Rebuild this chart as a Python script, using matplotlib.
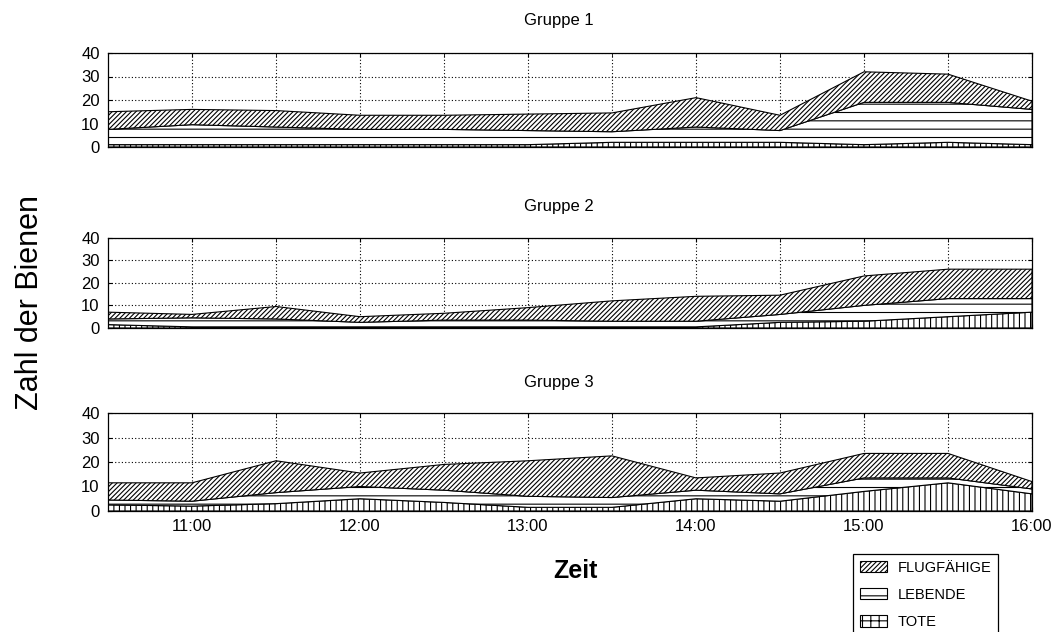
import matplotlib
matplotlib.use("Agg")
import matplotlib.pyplot as plt
from matplotlib.patches import Patch

plt.rcParams['font.family'] = ['Liberation Sans', 'DejaVu Sans']
plt.rcParams['hatch.linewidth'] = 0.8

# time of day in hours, every half hour
zeit = [10.5, 11.0, 11.5, 12.0, 12.5, 13.0, 13.5, 14.0, 14.5, 15.0, 15.5, 16.0]
stunden = [11, 12, 13, 14, 15, 16]
stunden_labels = ["11:00", "12:00", "13:00", "14:00", "15:00", "16:00"]

gruppen = ["Gruppe 1", "Gruppe 2", "Gruppe 3"]
kategorien = ["FLUGFÄHIGE", "LEBENDE", "TOTE"]

# Gruppe 1
tote_1 = [1, 1, 1, 1, 1, 1, 2, 2, 2, 1, 2, 1]
lebende_1 = [6.5, 8.5, 7.5, 6.5, 6.5, 6, 4.5, 6.5, 5, 18, 17, 15]
flug_1 = [7.5, 6.5, 7, 6, 6, 7, 8, 12.5, 6.5, 13, 12, 3.5]

# Gruppe 2
tote_2 = [1.5, 0.5, 0.5, 0.5, 0.5, 0.5, 0.5, 0.5, 2.5, 3, 5, 7]
lebende_2 = [2.5, 4, 3.5, 2, 3, 3, 2.5, 2.5, 3.5, 7, 8, 6]
flug_2 = [3, 1.5, 5.5, 2.5, 3, 5.5, 9, 11, 8.5, 13, 13, 13]

# Gruppe 3
tote_3 = [2.5, 2, 3, 5, 3.5, 1.5, 1.5, 5, 4, 8, 11.5, 7]
lebende_3 = [2, 2, 4.5, 5, 5, 4.5, 4, 3.5, 3, 5.5, 2, 2]
flug_3 = [7, 7.5, 13, 5.5, 10.5, 14.5, 17, 5, 8.5, 10, 10, 3]

daten = [(tote_1, lebende_1, flug_1),
         (tote_2, lebende_2, flug_2),
         (tote_3, lebende_3, flug_3)]

W, H = 1056, 632
fig = plt.figure(figsize=(W / 100, H / 100), dpi=100)

# panel boxes in pixels: (top, bottom)
boxes = [(53, 147), (237.5, 328), (413, 511)]
title_y = [21, 206, 382]
left, right = 108, 1032

for i, (tote, leb, flug) in enumerate(daten):
    top, bot = boxes[i]
    ax = fig.add_axes([left / W, 1 - bot / H, (right - left) / W, (bot - top) / H])
    ax.set_axisbelow(True)
    polys = ax.stackplot(zeit, tote, leb, flug,
                         colors=['white', 'white', 'white'],
                         edgecolor='black', linewidth=0.8)
    for p, h in zip(polys, ['|||', '--', '///////']):
        p.set_hatch(h)

    ax.set_xlim(10.5, 16)
    ax.set_ylim(0, 40)
    ax.set_yticks([0, 10, 20, 30, 40])
    ax.set_xticks(stunden)
    ax.set_xticks([11.5, 12.5, 13.5, 14.5, 15.5], minor=True)
    if i == 2:
        ax.set_xticklabels(stunden_labels)
    else:
        ax.set_xticklabels([])
    ax.grid(True, which='both', linestyle=(0, (1, 2)), color='black', linewidth=0.8)
    ax.tick_params(which='both', direction='in', length=3, top=True, right=True,
                   labelsize=12, pad=6)
    for s in ax.spines.values():
        s.set_linewidth(0.9)

    fig.text(559 / W, 1 - title_y[i] / H, gruppen[i], ha='center', va='center', fontsize=12)

fig.text(30 / W, 1 - 303 / H, "Zahl der Bienen", rotation=90, ha='center', va='center',
         fontsize=22)
fig.text(575 / W, 1 - 571 / H, "Zeit", ha='center', va='center', fontsize=18,
         fontweight='bold')

handles = [Patch(facecolor='white', edgecolor='black', hatch='///////', linewidth=0.8),
           Patch(facecolor='white', edgecolor='black', hatch='--', linewidth=0.8),
           Patch(facecolor='white', edgecolor='black', hatch='++', linewidth=0.8)]
leg = fig.legend(handles, kategorien, loc='upper left',
                 bbox_to_anchor=(853 / W, 1 - 554 / H), fontsize=10.5,
                 frameon=True, fancybox=False, edgecolor='black', framealpha=1,
                 handlelength=1.9, handleheight=0.85, handletextpad=0.7,
                 labelspacing=0.9, borderpad=0.45, borderaxespad=0)
leg.get_frame().set_linewidth(0.9)

fig.savefig("out.png", dpi=100)
